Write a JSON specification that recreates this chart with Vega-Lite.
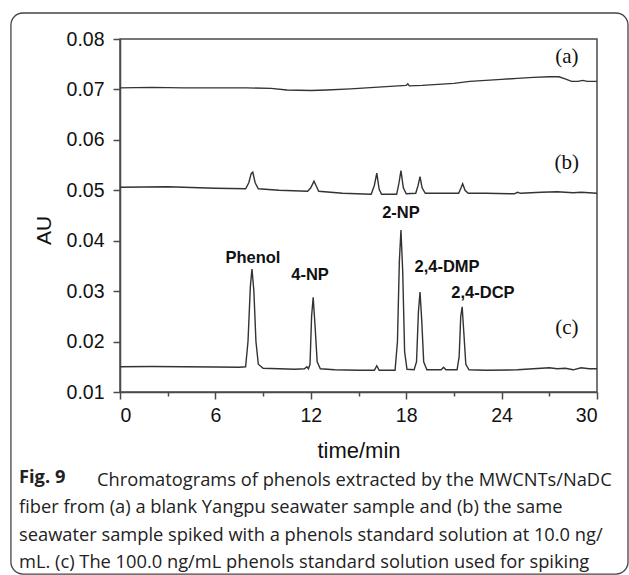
{
  "$schema": "https://vega.github.io/schema/vega-lite/v6.json",
  "autosize": {"type": "none"},
  "width": 477,
  "height": 353,
  "padding": {"left": 120, "top": 39, "right": 32, "bottom": 183},
  "background": "white",
  "config": {
    "view": {"stroke": "#4a4a4a", "strokeWidth": 1.5},
    "axis": {"grid": false, "domainColor": "#4a4a4a", "domainWidth": 1.5, "tickColor": "#4a4a4a", "tickWidth": 1.5, "labelColor": "#111", "titleColor": "#111", "labelFont": "Liberation Sans", "titleFont": "Liberation Sans", "titleFontWeight": "normal"}
  },
  "title": {
    "text": "Fig. 9",
    "orient": "bottom",
    "anchor": "start",
    "frame": "group",
    "dx": -101,
    "dy": -106,
    "offset": 0,
    "font": "Open Sans",
    "fontSize": 18.3,
    "fontWeight": "bold",
    "color": "#222",
    "subtitle": [
      "\u2800\u2800\u2800\u2800\u2800\u2800Chromatograms of phenols extracted by the MWCNTs/NaDC",
      "fiber from (a) a blank Yangpu seawater sample and (b) the same",
      "seawater sample spiked with a phenols standard solution at 10.0 ng/",
      "mL. (c) The 100.0 ng/mL phenols standard solution used for spiking"
    ],
    "subtitleFont": "Open Sans",
    "subtitleFontSize": 18.3,
    "subtitleColor": "#222",
    "subtitleLineHeight": 27.5,
    "subtitlePadding": -15
  },
  "datasets": {
    "traces": [
      {"run": "a", "t": 0, "au": 0.0703}, {"run": "a", "t": 2, "au": 0.0704}, {"run": "a", "t": 4, "au": 0.0703}, {"run": "a", "t": 6, "au": 0.0703}, {"run": "a", "t": 8, "au": 0.0703}, {"run": "a", "t": 9.5, "au": 0.0702}, {"run": "a", "t": 10.5, "au": 0.0699}, {"run": "a", "t": 12, "au": 0.0698}, {"run": "a", "t": 13, "au": 0.0699}, {"run": "a", "t": 14.5, "au": 0.0701}, {"run": "a", "t": 16, "au": 0.0704}, {"run": "a", "t": 17.5, "au": 0.0707}, {"run": "a", "t": 18.0, "au": 0.0708}, {"run": "a", "t": 18.1, "au": 0.0711}, {"run": "a", "t": 18.2, "au": 0.0707}, {"run": "a", "t": 19, "au": 0.0708}, {"run": "a", "t": 20, "au": 0.071}, {"run": "a", "t": 21, "au": 0.0712}, {"run": "a", "t": 22, "au": 0.0716}, {"run": "a", "t": 23, "au": 0.0718}, {"run": "a", "t": 24, "au": 0.072}, {"run": "a", "t": 25, "au": 0.0722}, {"run": "a", "t": 26, "au": 0.0724}, {"run": "a", "t": 27, "au": 0.0725}, {"run": "a", "t": 27.6, "au": 0.0725}, {"run": "a", "t": 28.0, "au": 0.0721}, {"run": "a", "t": 28.4, "au": 0.0716}, {"run": "a", "t": 28.8, "au": 0.0716}, {"run": "a", "t": 29.1, "au": 0.0718}, {"run": "a", "t": 29.4, "au": 0.0716}, {"run": "a", "t": 30, "au": 0.0716},
      {"run": "b", "t": 0, "au": 0.0506}, {"run": "b", "t": 3, "au": 0.0507}, {"run": "b", "t": 6, "au": 0.0504}, {"run": "b", "t": 7.9, "au": 0.0503}, {"run": "b", "t": 8.1, "au": 0.0515}, {"run": "b", "t": 8.25, "au": 0.0533}, {"run": "b", "t": 8.35, "au": 0.0536}, {"run": "b", "t": 8.5, "au": 0.0515}, {"run": "b", "t": 8.7, "au": 0.0503}, {"run": "b", "t": 10, "au": 0.05}, {"run": "b", "t": 11.8, "au": 0.0498}, {"run": "b", "t": 12.0, "au": 0.0505}, {"run": "b", "t": 12.2, "au": 0.0518}, {"run": "b", "t": 12.35, "au": 0.0508}, {"run": "b", "t": 12.5, "au": 0.0498}, {"run": "b", "t": 14, "au": 0.0494}, {"run": "b", "t": 15.8, "au": 0.0492}, {"run": "b", "t": 16.0, "au": 0.051}, {"run": "b", "t": 16.15, "au": 0.0534}, {"run": "b", "t": 16.3, "au": 0.0502}, {"run": "b", "t": 16.45, "au": 0.0492}, {"run": "b", "t": 17.4, "au": 0.0492}, {"run": "b", "t": 17.55, "au": 0.0515}, {"run": "b", "t": 17.67, "au": 0.0539}, {"run": "b", "t": 17.82, "au": 0.0505}, {"run": "b", "t": 18.0, "au": 0.0493}, {"run": "b", "t": 18.6, "au": 0.0494}, {"run": "b", "t": 18.75, "au": 0.051}, {"run": "b", "t": 18.87, "au": 0.0527}, {"run": "b", "t": 19.0, "au": 0.0505}, {"run": "b", "t": 19.2, "au": 0.0494}, {"run": "b", "t": 21.3, "au": 0.0494}, {"run": "b", "t": 21.45, "au": 0.0505}, {"run": "b", "t": 21.55, "au": 0.0513}, {"run": "b", "t": 21.7, "au": 0.05}, {"run": "b", "t": 21.9, "au": 0.0494}, {"run": "b", "t": 23, "au": 0.0494}, {"run": "b", "t": 24.8, "au": 0.0493}, {"run": "b", "t": 25, "au": 0.0496}, {"run": "b", "t": 25.2, "au": 0.0494}, {"run": "b", "t": 26.5, "au": 0.0496}, {"run": "b", "t": 27.5, "au": 0.0497}, {"run": "b", "t": 28.5, "au": 0.0495}, {"run": "b", "t": 29, "au": 0.0496}, {"run": "b", "t": 30, "au": 0.0494},
      {"run": "c", "t": 0, "au": 0.015}, {"run": "c", "t": 2, "au": 0.01505}, {"run": "c", "t": 4, "au": 0.015}, {"run": "c", "t": 6, "au": 0.01495}, {"run": "c", "t": 7.5, "au": 0.0149}, {"run": "c", "t": 7.9, "au": 0.015}, {"run": "c", "t": 8.05, "au": 0.02}, {"run": "c", "t": 8.2, "au": 0.031}, {"run": "c", "t": 8.3, "au": 0.0344}, {"run": "c", "t": 8.42, "au": 0.03}, {"run": "c", "t": 8.55, "au": 0.02}, {"run": "c", "t": 8.7, "au": 0.0155}, {"run": "c", "t": 9.0, "au": 0.0147}, {"run": "c", "t": 10, "au": 0.0146}, {"run": "c", "t": 11, "au": 0.0145}, {"run": "c", "t": 11.6, "au": 0.0146}, {"run": "c", "t": 11.75, "au": 0.015}, {"run": "c", "t": 11.85, "au": 0.0146}, {"run": "c", "t": 11.95, "au": 0.0155}, {"run": "c", "t": 12.05, "au": 0.025}, {"run": "c", "t": 12.15, "au": 0.0288}, {"run": "c", "t": 12.27, "au": 0.023}, {"run": "c", "t": 12.4, "au": 0.016}, {"run": "c", "t": 12.6, "au": 0.0146}, {"run": "c", "t": 13.5, "au": 0.0144}, {"run": "c", "t": 15, "au": 0.0143}, {"run": "c", "t": 16.0, "au": 0.0143}, {"run": "c", "t": 16.15, "au": 0.0152}, {"run": "c", "t": 16.3, "au": 0.0143}, {"run": "c", "t": 17.3, "au": 0.0143}, {"run": "c", "t": 17.45, "au": 0.02}, {"run": "c", "t": 17.57, "au": 0.036}, {"run": "c", "t": 17.67, "au": 0.0421}, {"run": "c", "t": 17.78, "au": 0.034}, {"run": "c", "t": 17.9, "au": 0.018}, {"run": "c", "t": 18.05, "au": 0.0145}, {"run": "c", "t": 18.5, "au": 0.0144}, {"run": "c", "t": 18.65, "au": 0.016}, {"run": "c", "t": 18.77, "au": 0.026}, {"run": "c", "t": 18.87, "au": 0.0298}, {"run": "c", "t": 18.98, "au": 0.024}, {"run": "c", "t": 19.1, "au": 0.016}, {"run": "c", "t": 19.3, "au": 0.0144}, {"run": "c", "t": 20.2, "au": 0.0144}, {"run": "c", "t": 20.35, "au": 0.0149}, {"run": "c", "t": 20.5, "au": 0.0144}, {"run": "c", "t": 21.2, "au": 0.0144}, {"run": "c", "t": 21.33, "au": 0.017}, {"run": "c", "t": 21.43, "au": 0.025}, {"run": "c", "t": 21.52, "au": 0.0269}, {"run": "c", "t": 21.62, "au": 0.022}, {"run": "c", "t": 21.75, "au": 0.0155}, {"run": "c", "t": 21.95, "au": 0.0144}, {"run": "c", "t": 23, "au": 0.0143}, {"run": "c", "t": 25, "au": 0.0144}, {"run": "c", "t": 26, "au": 0.0146}, {"run": "c", "t": 27, "au": 0.0148}, {"run": "c", "t": 27.5, "au": 0.0146}, {"run": "c", "t": 28, "au": 0.0147}, {"run": "c", "t": 28.5, "au": 0.0144}, {"run": "c", "t": 29, "au": 0.0148}, {"run": "c", "t": 29.5, "au": 0.0146}, {"run": "c", "t": 30, "au": 0.0146}
    ],
    "peaks": [
      {"name": "Phenol", "t": 8.36, "au": 0.0366},
      {"name": "4-NP", "t": 11.95, "au": 0.0332},
      {"name": "2-NP", "t": 17.67, "au": 0.0455},
      {"name": "2,4-DMP", "t": 20.57, "au": 0.0348},
      {"name": "2,4-DCP", "t": 22.83, "au": 0.0296}
    ],
    "runs": [
      {"name": "(a)", "t": 28.1, "au": 0.0764},
      {"name": "(b)", "t": 28.1, "au": 0.0554},
      {"name": "(c)", "t": 28.1, "au": 0.0227}
    ]
  },
  "layer": [
    {
      "data": {"name": "traces"},
      "mark": {"type": "line", "color": "#333", "strokeWidth": 1.4},
      "encoding": {
        "x": {
          "field": "t", "type": "quantitative",
          "scale": {"domain": [0, 30], "nice": false, "zero": false},
          "axis": {
            "title": "time/min", "titleFontSize": 22, "titlePadding": 16,
            "values": [0, 3, 6, 9, 12, 15, 18, 21, 24, 27, 30],
            "labelExpr": "datum.value % 6 ? '' : datum.label",
            "labelFontSize": 19.5, "labelPadding": 7,
            "tickSize": {"condition": {"test": "datum.value % 6 != 0", "value": 4}, "value": 7}
          }
        },
        "y": {
          "field": "au", "type": "quantitative",
          "scale": {"domain": [0.01, 0.08], "nice": false, "zero": false},
          "axis": {
            "title": "AU", "titleFontSize": 21, "titlePadding": 12, "titleY": 191,
            "values": [0.01, 0.015, 0.02, 0.025, 0.03, 0.035, 0.04, 0.045, 0.05, 0.055, 0.06, 0.065, 0.07, 0.075, 0.08],
            "format": ".2f",
            "labelExpr": "round(datum.value * 1000) % 10 ? '' : datum.label",
            "labelFontSize": 19.5, "labelPadding": 9,
            "tickSize": {"condition": {"test": "round(datum.value * 1000) % 10 != 0", "value": 4}, "value": 7}
          }
        },
        "detail": {"field": "run"}
      }
    },
    {
      "data": {"name": "peaks"},
      "mark": {"type": "text", "font": "Liberation Sans", "fontWeight": "bold", "fontSize": 16.5, "color": "#111", "baseline": "middle", "align": "center"},
      "encoding": {
        "x": {"field": "t", "type": "quantitative"},
        "y": {"field": "au", "type": "quantitative"},
        "text": {"field": "name"}
      }
    },
    {
      "data": {"name": "runs"},
      "mark": {"type": "text", "font": "Liberation Serif", "fontSize": 21, "color": "#111", "baseline": "middle", "align": "center"},
      "encoding": {
        "x": {"field": "t", "type": "quantitative"},
        "y": {"field": "au", "type": "quantitative"},
        "text": {"field": "name"}
      }
    },
    {
      "data": {"values": [{}]},
      "mark": {"type": "rect", "fill": null, "fillOpacity": 0, "stroke": "#444", "strokeWidth": 1.3, "cornerRadius": 12},
      "encoding": {
        "x": {"datum": -6.86},
        "x2": {"datum": 31.95},
        "y": {"datum": 0.08516},
        "y2": {"datum": -0.0261}
      }
    }
  ]
}
